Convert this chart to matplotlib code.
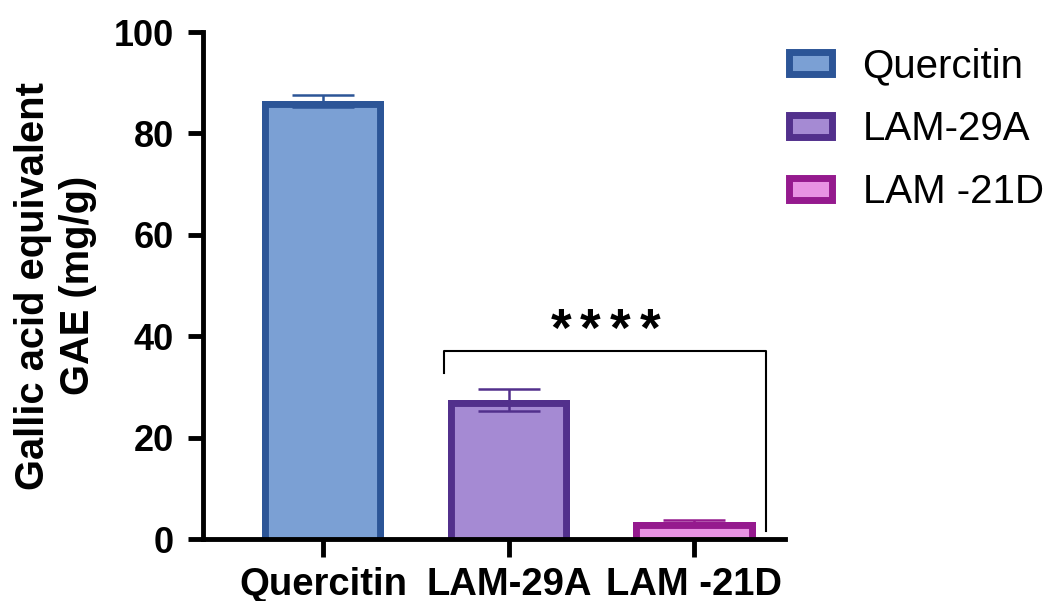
import matplotlib
matplotlib.use("Agg")
import matplotlib.pyplot as plt
from matplotlib.patches import Patch, Rectangle
import numpy as np

plt.rcParams['font.family'] = ['Liberation Sans', 'DejaVu Sans']

# Total phenolic content, mean and SD
samples = ["Quercitin", "LAM-29A", "LAM -21D"]
means = [86.4, 27.4, 3.4]
sds = [1.2, 2.2, 0.3]
faces = ["#7BA0D4", "#A58AD3", "#E893E3"]
edges = ["#2C5597", "#52308C", "#951A8E"]

fig = plt.figure(figsize=(10.47, 6.01), dpi=100)
ax = fig.add_axes([0.194, 0.103, 0.556, 0.8436])

x = np.arange(len(samples))
width = 0.66
# bars start a bit below zero so the bottom border is hidden
base = -2.0
bars = ax.bar(x, [m - base for m in means], bottom=base, width=width,
              color=faces, edgecolor=edges, linewidth=10, zorder=2)
for b, xi, m in zip(bars, x, means):
    # clip to the visible part of the bar: only the inner half of the border stays
    b.set_clip_path(Rectangle((xi - width / 2, 0), width, m, transform=ax.transData))
for xi, m, s, c in zip(x, means, sds, edges):
    ax.errorbar(xi, m, yerr=s, ecolor=c, elinewidth=1.8, capsize=22,
                capthick=1.8, fmt="none", zorder=3)

ax.set_xlim(-0.647, 2.49)
ax.set_ylim(0, 100)
ax.set_yticks([0, 20, 40, 60, 80, 100])
ax.set_xticks(x)
ax.set_xticklabels(samples)

for side in ["top", "right"]:
    ax.spines[side].set_visible(False)
for side in ["left", "bottom"]:
    ax.spines[side].set_linewidth(3.5)
    ax.spines[side].set_zorder(4)
ax.tick_params(axis="y", length=11, width=3.5, labelsize=26, pad=10)
ax.tick_params(axis="x", length=13, width=3.5, labelsize=27.5, pad=7)
for lbl in ax.get_xticklabels() + ax.get_yticklabels():
    lbl.set_fontweight("bold")

ax.set_ylabel("Gallic acid equivalent\nGAE (mg/g)", fontsize=28.7,
              fontweight="bold", labelpad=12, linespacing=1.25)

# significance bracket between LAM-29A and LAM -21D
bx = [0.652, 0.652, 2.388, 2.388]
by = [32.7, 37.1, 37.1, 1.6]
ax.plot(bx, by, color="black", linewidth=1.5, clip_on=False, zorder=4)
for off in [-0.24, -0.08, 0.08, 0.24]:
    ax.text(1.52 + off, 38.1, "*", ha="center", va="baseline", fontsize=38,
            fontweight="bold")

handles = [Patch(facecolor=f, edgecolor=e, linewidth=5) for f, e in zip(faces, edges)]
fig.legend(handles, samples, loc="upper left", bbox_to_anchor=(0.738, 0.948),
           frameon=False, fontsize=29, handlelength=1.08, handleheight=0.48,
           handletextpad=0.75, labelspacing=0.62, borderaxespad=0)

fig.savefig("out.png", dpi=100)
